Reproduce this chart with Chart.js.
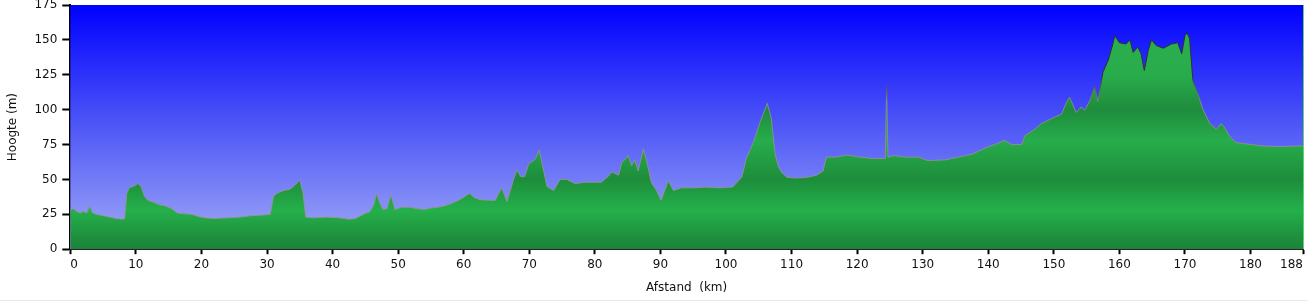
<!DOCTYPE html>
<html>
<head>
<meta charset="utf-8">
<script src="https://cdn.jsdelivr.net/npm/chart.js@4/dist/chart.umd.min.js"></script>
<style>
  html, body { margin: 0; padding: 0; background: #fff; }
  #wrap { width: 1308px; height: 300px; border-bottom: 1px solid #e8e8e8; }
</style>
</head>
<body>
<div id="wrap"><canvas id="profile" width="1308" height="300"></canvas></div>
<script>
// ── DATA ──
// distance along the route (km) and elevation (m)
const distanceKm = [
  0, 0.5, 1, 1.5, 2, 2.5, 3.0, 3.4, 4, 5, 6, 7, 8, 8.3, 8.6, 9, 9.6, 10.3, 10.8, 11.3,
  11.8, 12.5, 13.5, 14.5, 15.5, 16.3, 17, 18.5, 19.5, 20.5, 22, 24, 26, 27.5, 29.5, 30.5,
  31, 31.5, 32.5, 33.5, 34.3, 35, 35.5, 35.9, 37, 39, 41, 42.5, 43.5, 44.7, 45.7, 46.3,
  46.7, 47.2, 47.7, 48.3, 48.9, 49.5, 50.5, 51.8, 53, 54, 55, 56, 57, 58, 59.4, 60.9,
  61.6, 62.5, 64, 64.8, 65.8, 66.6, 67.6, 68.1, 68.7, 69.3, 69.9, 70.9, 71.5, 72.2, 72.7,
  73.7, 74.7, 75.7, 77, 78.5, 80, 81, 82.1, 82.6, 83.6, 84.1, 85.1, 85.6, 86.1, 86.6,
  87.4, 88.1, 88.6, 89.4, 90.1, 91.2, 92, 93.2, 95, 97, 99, 101, 102.4, 103.1, 104.2,
  105.2, 106.3, 106.9, 107.5, 108, 108.5, 109.3, 110.8, 112.3, 113.8, 114.8, 115.3,
  116.9, 118.4, 120.4, 122.4, 124.3, 124.5, 124.7, 125.7, 127.3, 129.3, 130.8, 133.4,
  135.4, 137.5, 139.5, 141.5, 142.5, 143.6, 145.1, 145.6, 147.1, 148.1, 149.6, 151.2,
  151.9, 152.4, 153.4, 154.2, 154.7, 155.5, 156.2, 156.7, 157.5, 158.3, 159, 159.3, 160,
  161, 161.6, 162.1, 162.8, 163.3, 163.8, 164.4, 164.9, 165.6, 166.7, 167.9, 168.9,
  169.5, 170, 170.3, 170.7, 171.2, 172, 172.7, 173.8, 174.8, 175.5, 176, 176.8, 177.8,
  179.3, 181.9, 184.4, 187, 188
];
const elevationM = [
  28, 29, 27, 26, 27, 26, 31, 26, 25, 24, 23, 22, 21.5, 22, 40, 44, 45, 47, 45, 38,
  35, 34, 32, 31, 29, 26, 25.5, 25, 23.5, 22.5, 22, 22.5, 23, 24, 24.5, 25,
  38, 40, 42, 43, 46, 49.5, 40, 23, 22.5, 23, 22.5, 21.5, 22, 25, 27, 32,
  40, 33, 28.5, 29, 39, 28.5, 30, 30, 29, 28.5, 29.5, 30, 31, 32.5, 35.5, 40,
  37, 35.5, 35, 35, 44, 34, 50, 57, 52, 52, 61, 64.5, 71, 56, 45,
  42, 50, 50, 47, 48, 48, 48, 52.5, 55.5, 53, 62, 67, 60, 64, 56,
  72, 59, 48, 42, 35, 49, 42, 44, 44, 44.5, 44, 44.5, 51.5, 65, 77,
  91, 104.5, 94, 68, 59, 55, 51.5, 51, 51.5, 53, 56, 66,
  66, 67.5, 66, 65, 65, 117, 66, 67, 66, 66, 63.5, 64,
  66, 68, 72.5, 76, 78, 75, 75, 81.5, 86, 90, 93.5, 97,
  105, 109, 98, 102, 99.5, 106.5, 117, 106, 127, 135.5, 147, 153, 148,
  147, 150, 141, 145, 140, 128, 142.5, 150, 146, 144, 147, 148,
  140, 153, 155, 151, 121, 111, 100.5, 90, 86, 90, 87.5, 81, 76.5,
  75.5, 74, 73.5, 74, 74
];
const xTicks = [0, 10, 20, 30, 40, 50, 60, 70, 80, 90, 100, 110, 120, 130, 140, 150, 160, 170, 180, 188];
const yTicks = [0, 25, 50, 75, 100, 125, 150, 175];

const FONT = "'DejaVu Sans', Verdana, sans-serif";

// sky behind the plot: deep blue at the top fading to lavender
const skyPlugin = {
    id: 'sky',
    beforeDatasetsDraw(chart) {
        const { ctx, chartArea: a } = chart;
        const g = ctx.createLinearGradient(0, a.top, 0, a.bottom);
        g.addColorStop(0, '#0000ff');
        g.addColorStop(0.5, '#4f58f6');
        g.addColorStop(1, '#a3acf6');
        ctx.save();
        ctx.fillStyle = g;
        ctx.fillRect(a.left, a.top, a.right - a.left, a.bottom - a.top);
        ctx.restore();
    },
    afterDraw(chart) {
        const { ctx, chartArea: a } = chart;
        ctx.save();
        ctx.strokeStyle = '#5fd36a';
        ctx.lineWidth = 1;
        ctx.beginPath();
        ctx.moveTo(a.right + 0.5, a.top);
        ctx.lineTo(a.right + 0.5, a.bottom);
        ctx.stroke();
        ctx.restore();
    }
};

// vertical gradient helper, stops given in metres
function byHeight(chart, stops, fallback) {
    const a = chart.chartArea;
    if (!a) return fallback;
    const y = chart.scales.y;
    const g = chart.ctx.createLinearGradient(0, a.bottom, 0, a.top);
    stops.forEach(([m, c]) => {
        const t = (a.bottom - y.getPixelForValue(m)) / (a.bottom - a.top);
        g.addColorStop(Math.min(1, Math.max(0, t)), c);
    });
    return g;
}

// banded green fill: darker at 0/50/100 m, lighter between
const terrainFill = c => byHeight(c.chart, [
    [0, '#1b8237'], [28, '#25b04b'], [50, '#1d8d3b'], [78, '#27ad4b'],
    [100, '#1e8c3c'], [125, '#29ad4c'], [175, '#2cae4e']
], '#22a045');

// outline: grey low down, nearly black along the high plateau
const terrainEdge = c => byHeight(c.chart, [
    [0, 'rgba(150,150,150,0.9)'], [105, 'rgba(140,140,140,0.9)'],
    [125, 'rgba(45,45,45,0.95)'], [175, 'rgba(45,45,45,0.95)']
], '#8c8c8c');

new Chart(document.getElementById('profile'), {
    type: 'line',
    data: {
        datasets: [{
            data: distanceKm.map((d, i) => ({ x: d, y: elevationM[i] })),
            fill: 'origin',
            backgroundColor: terrainFill,
            borderColor: terrainEdge,
            borderWidth: 1,
            pointRadius: 0,
            tension: 0
        }]
    },
    options: {
        responsive: false,
        animation: false,
        events: [],
        layout: { padding: { left: 0, right: 5, top: 5, bottom: 1 } },
        plugins: { legend: { display: false }, tooltip: { enabled: false } },
        scales: {
            x: {
                type: 'linear',
                min: 0,
                max: 188,
                afterBuildTicks: s => { s.ticks = xTicks.map(v => ({ value: v })); },
                afterFit: s => { s.paddingLeft = 0; s.paddingRight = 0; },
                ticks: {
                    autoSkip: false, maxRotation: 0, align: 'inner', padding: 3,
                    color: '#111', font: { family: FONT, size: 12 }
                },
                grid: { drawOnChartArea: false, tickLength: 5, tickColor: '#000', tickWidth: 2 },
                border: { color: '#000', width: 2 },
                title: {
                    display: true, text: 'Afstand  (km)', color: '#111',
                    font: { family: FONT, size: 12 }, padding: { top: 6, bottom: 4 }
                }
            },
            y: {
                min: 0,
                max: 175,
                z: 1,
                afterBuildTicks: s => { s.ticks = yTicks.map(v => ({ value: v })); },
                afterFit: s => { s.paddingTop = 0; s.paddingBottom = 0; },
                ticks: {
                    padding: 5, color: '#111', font: { family: FONT, size: 12 }
                },
                grid: { color: 'rgba(0,0,30,0.45)', lineWidth: 1, tickLength: 8, tickColor: '#000', tickWidth: 2 },
                border: { color: '#000', width: 2 },
                title: {
                    display: true, text: 'Hoogte (m)', color: '#111',
                    font: { family: FONT, size: 12 }, padding: { top: 6, bottom: 9 }
                }
            }
        }
    },
    plugins: [skyPlugin]
});
</script>
</body>
</html>
